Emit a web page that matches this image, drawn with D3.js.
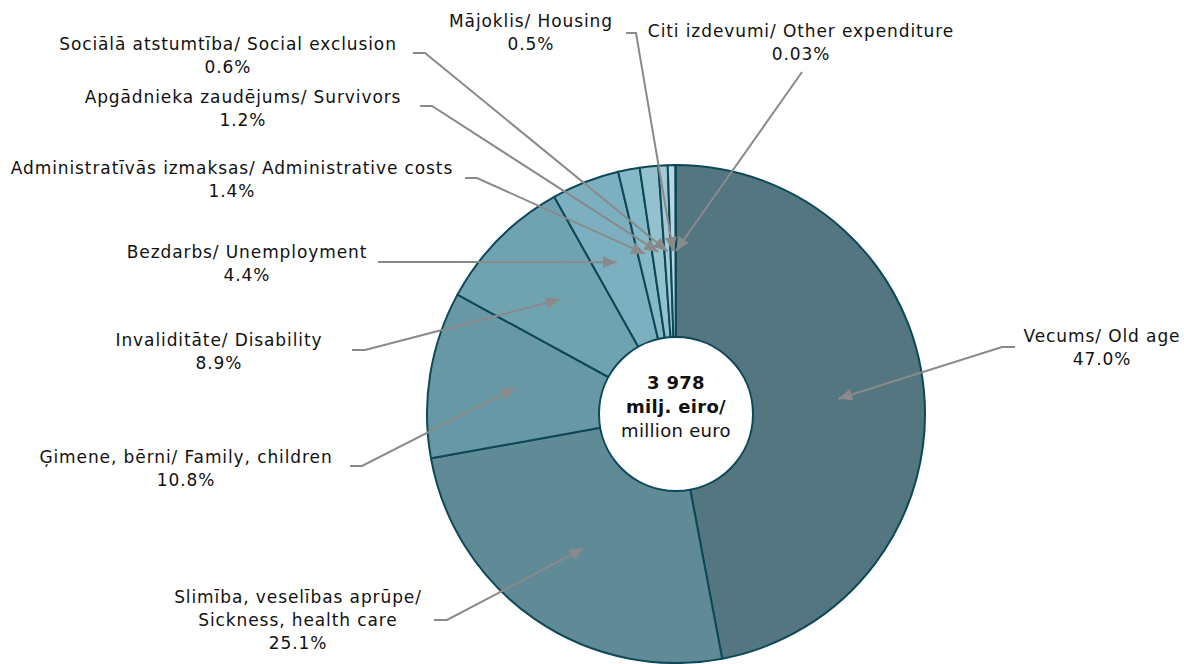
<!DOCTYPE html>
<html lang="lv">
<head>
<meta charset="utf-8">
<title>Sociālās aizsardzības izdevumi</title>
<script src="https://cdnjs.cloudflare.com/ajax/libs/d3/7.8.5/d3.min.js"></script>
<style>
  body { margin: 0; background: #fff; }
  text { font-family: Verdana, "DejaVu Sans", sans-serif; fill: #111; }
</style>
</head>
<body>
<script>
// data
var labelsLv = ["Vecums/ Old age", "Slimība, veselības aprūpe/|Sickness, health care", "Ģimene, bērni/ Family, children",
  "Invaliditāte/ Disability", "Bezdarbs/ Unemployment", "Administratīvās izmaksas/ Administrative costs",
  "Apgādnieka zaudējums/ Survivors", "Sociālā atstumtība/ Social exclusion", "Mājoklis/ Housing",
  "Citi izdevumi/ Other expenditure"];
var shares = [47.0, 25.1, 10.8, 8.9, 4.4, 1.4, 1.2, 0.6, 0.5, 0.03];
var shareText = ["47.0%", "25.1%", "10.8%", "8.9%", "4.4%", "1.4%", "1.2%", "0.6%", "0.5%", "0.03%"];
var totalText = ["3 978", "milj. eiro/", "million euro"];

// layout of labels: text centre x, first line y, elbow start x, elbow end x, elbow y
var labelPos = [
  [1102, 336, 1015, 1002, 347],
  [298, 597, 434, 447, 620],
  [186, 457, 350, 362, 466],
  [219, 340, 352, 365, 350],
  [247, 252, 378, 390, 262],
  [232, 168, 465, 477, 178],
  [243, 97, 420, 432, 106],
  [228, 44, 413, 425, 53],
  [531, 21, 626, 636, 33],
  [801, 31, 802, 802, 72]
];

var colors = ["#537681", "#5f8a96", "#6898a5", "#70a3b0", "#7cb0c0",
  "#86b9c7", "#93c1ce", "#a4c8d4", "#b6d6e0", "#d5e8ee"];

var w = 1184, h = 664;
var cx = 676, cy = 414;
var rOuter = 249, rInner = 77;

var svg = d3.select("body").append("svg")
  .attr("width", w).attr("height", h);

var defs = svg.append("defs");
defs.append("marker")
  .attr("id", "arrow")
  .attr("viewBox", "0 0 14 12")
  .attr("refX", 14).attr("refY", 6)
  .attr("markerWidth", 14).attr("markerHeight", 12)
  .attr("markerUnits", "userSpaceOnUse")
  .attr("orient", "auto")
  .append("path")
  .attr("d", "M0,0 L14,6 L0,12 Z")
  .attr("fill", "#8a8a8a");

var pie = d3.pie().sort(null).value(function(d) { return d; });
var arcs = pie(shares);
var arc = d3.arc().innerRadius(0).outerRadius(rOuter);
var midArc = d3.arc().innerRadius(rInner).outerRadius(rOuter);

var g = svg.append("g").attr("transform", "translate(" + cx + "," + cy + ")");

g.selectAll("path.slice")
  .data(arcs)
  .enter()
  .append("path")
  .attr("class", "slice")
  .attr("d", arc)
  .attr("fill", function(d, i) { return colors[i]; })
  .attr("stroke", "#0c4858")
  .attr("stroke-width", 2)
  .attr("stroke-linejoin", "round");

// leader lines
svg.selectAll("path.leader")
  .data(arcs)
  .enter()
  .append("path")
  .attr("class", "leader")
  .attr("d", function(d, i) {
    var c = midArc.centroid(d);
    var p = labelPos[i];
    return "M" + p[2] + "," + p[4] + "L" + p[3] + "," + p[4] + "L" + (cx + c[0]) + "," + (cy + c[1]);
  })
  .attr("fill", "none")
  .attr("stroke", "#8a8a8a")
  .attr("stroke-width", 2)
  .attr("marker-end", "url(#arrow)");

// hole
g.append("circle")
  .attr("r", rInner)
  .attr("fill", "#fff")
  .attr("stroke", "#0c4858")
  .attr("stroke-width", 2);

g.selectAll("text.total")
  .data(totalText)
  .enter()
  .append("text")
  .attr("class", "total")
  .attr("text-anchor", "middle")
  .attr("dy", "0.35em")
  .attr("y", function(d, i) { return -31 + i * 24; })
  .attr("font-size", 18)
  .attr("letter-spacing", 0.3)
  .attr("font-weight", function(d, i) { return i < 2 ? "bold" : "normal"; })
  .text(function(d) { return d; });

// labels
var lab = svg.selectAll("text.label")
  .data(labelsLv)
  .enter()
  .append("text")
  .attr("class", "label")
  .attr("text-anchor", "middle")
  .attr("font-size", 17)
  .attr("letter-spacing", 0.9);

lab.each(function(d, i) {
  var lines = d.split("|").concat([shareText[i]]);
  var t = d3.select(this);
  lines.forEach(function(s, k) {
    t.append("tspan")
      .attr("x", labelPos[i][0])
      .attr("y", labelPos[i][1] + k * 23)
      .attr("dy", "0.35em")
      .text(s);
  });
});
</script>
</body>
</html>
